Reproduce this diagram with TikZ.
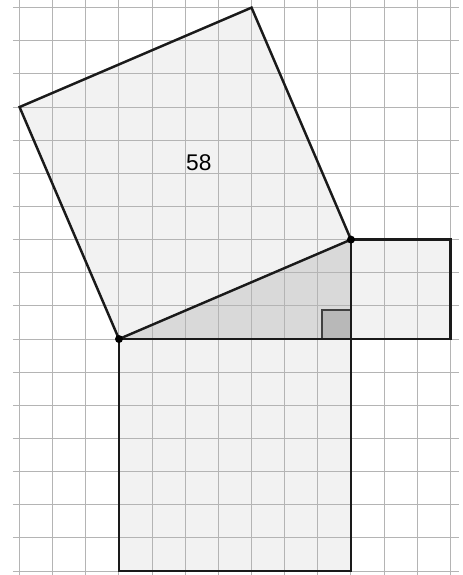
\documentclass[tikz,border=0pt]{standalone}
\usepackage{fontspec}
\setmainfont{Liberation Sans}
\definecolor{gridc}{HTML}{B4B4B4}
\definecolor{sqfill}{HTML}{F2F2F2}
\definecolor{trifill}{HTML}{D9D9D9}
\definecolor{angfill}{HTML}{B8B8B8}
\definecolor{edge}{HTML}{1A1A1A}
\tikzset{
  gridline/.style={draw=gridc, line width=0.85pt},
  outline/.style={draw=edge, line width=2.1pt, line join=miter},
  vertexdot/.style={circle, fill=black, inner sep=0pt, minimum size=0.24cm}
}
\begin{document}
\begin{tikzpicture}[x=1cm,y=1cm]
\useasboundingbox (-3.59,-7.12) rectangle (10.38,10.23);
% vertices
\coordinate (A) at (0,0);
\coordinate (B) at (7,0);
\coordinate (C) at (7,3);
\coordinate (D) at (4,10);
\coordinate (E) at (-3,7);
% fills
\fill[sqfill] (A) -- (C) -- (D) -- (E) -- cycle;
\fill[sqfill] (A) -- (B) -- (7,-7) -- (0,-7) -- cycle;
\fill[sqfill] (B) -- (C) -- (10,3) -- (10,0) -- cycle;
\fill[trifill] (A) -- (B) -- (C) -- cycle;
% grid
\begin{scope}
\clip (-3.59,-7.12) rectangle (10.38,10.23);
\foreach \i in {-3,...,10} \draw[gridline] (\i,-7.5) -- (\i,10.5);
\foreach \j in {-7,...,10} \draw[gridline] (-3.2,\j) -- (10.27,\j);
\end{scope}
% right angle mark
\draw[fill=angfill, draw=black!75, line width=1.1pt] (7,0) rectangle (6.125,0.875);
% outlines
\draw[outline] (A) -- (C) -- (D) -- (E) -- cycle;
\draw[outline] (A) -- (B) -- (7,-7) -- (0,-7) -- cycle;
\draw[outline] (B) -- (C) -- (10,3) -- (10,0) -- cycle;
% points
\node[vertexdot] (pA) at (A) {};
\node[vertexdot] (pC) at (C) {};
% label
\node (lbl) at (2.41,5.31) {\fontsize{19.5}{22}\selectfont 58};
\end{tikzpicture}
\end{document}
